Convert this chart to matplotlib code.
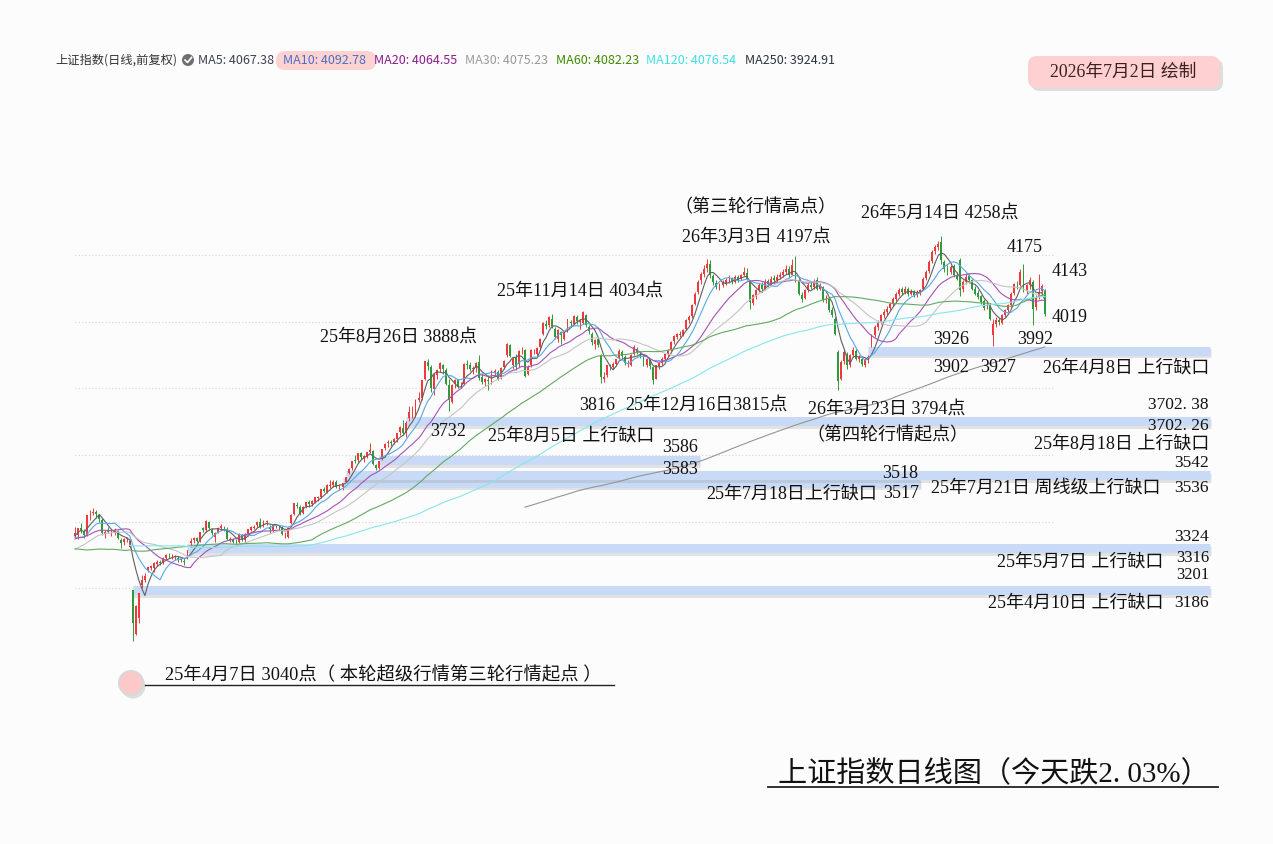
import numpy as np
import pandas as pd
import matplotlib
matplotlib.use("Agg")
import matplotlib.pyplot as plt
import matplotlib.patheffects as pe
from matplotlib.patches import FancyBboxPatch, Circle

# ---- data: SSE composite daily candles, 2025-03-10 .. 2026-07-02 ----
# closes before the first shown candle (only used to warm up the moving averages)
prior_closes = [3217, 3284, 3202, 3202, 3169, 3261, 3268, 3285, 3302, 3280, 3299, 3322, 3286, 3266, 3279,
                3272, 3310, 3386, 3383, 3470, 3452, 3470, 3421, 3439, 3423, 3379, 3330, 3324, 3367, 3370, 3316, 3267, 3263,
                3259, 3295, 3309, 3326, 3363, 3378, 3364, 3368, 3404, 3402, 3422, 3432, 3461, 3391, 3386, 3361, 3382, 3370,
                3398, 3393, 3351, 3394, 3400, 3407, 3399, 3351, 3262, 3242, 3211, 3206, 3229, 3230, 3211, 3168, 3160, 3227,
                3236, 3241, 3241, 3244, 3242, 3213, 3230, 3250, 3252, 3250, 3270, 3303, 3311, 3318, 3322, 3346, 3332, 3355,
                3324, 3351, 3355, 3350, 3379, 3373, 3388, 3346, 3320, 3316, 3324, 3342, 3381, 3372]

opens = [3358, 3360, 3382, 3370, 3360, 3425, 3427, 3428, 3420, 3405,
         3362, 3372, 3368, 3366, 3372, 3345, 3338, 3348, 3325, 3194,
         3064, 3110, 3210, 3224, 3255, 3260, 3262, 3272, 3278, 3277,
         3290, 3298, 3296, 3295, 3292, 3285, 3283, 3290, 3335, 3345,
         3350, 3345, 3380, 3376, 3398, 3376, 3355, 3370, 3380, 3382,
         3378, 3345, 3345, 3340, 3340, 3360, 3345, 3362, 3376, 3382,
         3390, 3400, 3390, 3400, 3385, 3375, 3388, 3387, 3385, 3360,
         3355, 3395, 3422, 3450, 3445, 3426, 3446, 3458, 3452, 3460,
         3470, 3475, 3498, 3490, 3508, 3510, 3520, 3502, 3504, 3520,
         3545, 3560, 3585, 3585, 3605, 3590, 3595, 3610, 3612, 3570,
         3560, 3590, 3620, 3635, 3638, 3640, 3648, 3668, 3682, 3665,
         3710, 3725, 3720, 3765, 3770, 3830, 3880, 3865, 3798, 3840,
         3860, 3870, 3855, 3810, 3760, 3815, 3825, 3810, 3815, 3875,
         3870, 3858, 3862, 3880, 3835, 3820, 3825, 3818, 3850, 3850,
         3835, 3865, 3900, 3930, 3870, 3895, 3875, 3915, 3915, 3845,
         3870, 3912, 3905, 3925, 3965, 3995, 3990, 4010, 3980, 3950,
         3970, 3950, 3975, 4000, 3995, 4015, 4000, 3998, 4020, 3985,
         3965, 3935, 3950, 3900, 3830, 3840, 3865, 3866, 3875, 3892,
         3910, 3895, 3875, 3870, 3905, 3920, 3905, 3900, 3870, 3885,
         3865, 3830, 3868, 3878, 3890, 3905, 3915, 3942, 3955, 3962,
         3962, 3978, 4005, 4018, 4055, 4090, 4125, 4145, 4162, 4175,
         4138, 4118, 4100, 4112, 4115, 4128, 4132, 4120, 4136, 4128,
         4142, 4148, 4120, 4058, 4078, 4095, 4112, 4100, 4122, 4115,
         4132, 4125, 4135, 4140, 4150, 4160, 4142, 4180, 4125, 4082,
         4072, 4095, 4112, 4105, 4125, 4100, 4105, 4065, 4068, 4035,
         4010, 3910, 3830, 3882, 3905, 3872, 3900, 3912, 3888, 3890,
         3872, 3885, 3935, 3962, 3985, 4000, 4022, 4030, 4042, 4055,
         4070, 4085, 4098, 4090, 4100, 4085, 4092, 4080, 4088, 4100,
         4132, 4152, 4182, 4212, 4226, 4240, 4180, 4162, 4150, 4168,
         4142, 4185, 4098, 4120, 4138, 4125, 4100, 4088, 4078, 4062,
         4048, 4052, 3960, 3995, 4005, 3998, 4020, 4035, 4050, 4088,
         4112, 4112, 4155, 4095, 4110, 4120, 4045, 4078, 4092, 4095]

highs = [3385, 3382, 3395, 3378, 3420, 3436, 3440, 3434, 3424, 3410,
         3376, 3384, 3375, 3380, 3375, 3350, 3350, 3354, 3348, 3194,
         3150, 3186, 3240, 3245, 3265, 3270, 3280, 3285, 3284, 3295,
         3302, 3305, 3302, 3300, 3296, 3292, 3290, 3316, 3350, 3355,
         3355, 3370, 3385, 3404, 3402, 3380, 3370, 3385, 3392, 3388,
         3385, 3355, 3352, 3348, 3365, 3362, 3365, 3378, 3388, 3390,
         3402, 3410, 3405, 3406, 3390, 3390, 3392, 3390, 3387, 3370,
         3385, 3422, 3456, 3460, 3450, 3446, 3460, 3465, 3465, 3475,
         3478, 3498, 3505, 3512, 3525, 3525, 3525, 3512, 3517, 3535,
         3562, 3582, 3600, 3606, 3610, 3600, 3610, 3636, 3615, 3572,
         3583, 3618, 3636, 3645, 3645, 3650, 3666, 3688, 3705, 3702,
         3746, 3746, 3767, 3788, 3826, 3883, 3888, 3870, 3845, 3860,
         3880, 3875, 3862, 3830, 3815, 3830, 3830, 3820, 3876, 3885,
         3880, 3868, 3880, 3900, 3845, 3832, 3840, 3855, 3860, 3855,
         3865, 3885, 3937, 3935, 3895, 3905, 3915, 3925, 3920, 3870,
         3918, 3920, 3925, 3952, 3999, 4005, 4017, 4025, 3985, 3978,
         3972, 3972, 4008, 4005, 4020, 4020, 4010, 4034, 4025, 3990,
         3970, 3950, 3955, 3905, 3850, 3872, 3875, 3880, 3890, 3920,
         3915, 3900, 3885, 3905, 3930, 3925, 3912, 3905, 3892, 3890,
         3868, 3872, 3880, 3895, 3908, 3918, 3942, 3960, 3968, 3972,
         3980, 4010, 4020, 4055, 4090, 4125, 4150, 4172, 4190, 4185,
         4145, 4125, 4118, 4125, 4132, 4140, 4136, 4140, 4142, 4145,
         4165, 4162, 4125, 4085, 4100, 4118, 4120, 4128, 4130, 4138,
         4140, 4145, 4150, 4160, 4170, 4168, 4188, 4197, 4130, 4090,
         4100, 4118, 4120, 4128, 4135, 4118, 4108, 4080, 4072, 4045,
         4015, 3915, 3885, 3920, 3910, 3905, 3925, 3918, 3900, 3895,
         3892, 3902, 3965, 3990, 4005, 4025, 4038, 4048, 4060, 4075,
         4090, 4102, 4105, 4108, 4105, 4098, 4096, 4095, 4100, 4135,
         4155, 4185, 4215, 4232, 4242, 4258, 4185, 4170, 4172, 4175,
         4150, 4192, 4125, 4145, 4145, 4130, 4108, 4095, 4082, 4068,
         4062, 4058, 4008, 4015, 4012, 4025, 4040, 4055, 4090, 4118,
         4122, 4160, 4175, 4115, 4135, 4125, 4080, 4143, 4115, 4100]

lows = [3350, 3347, 3365, 3350, 3358, 3405, 3420, 3410, 3400, 3360,
        3350, 3365, 3356, 3360, 3348, 3320, 3330, 3340, 3322, 3041,
        3060, 3095, 3201, 3218, 3248, 3255, 3250, 3268, 3270, 3274,
        3285, 3290, 3288, 3286, 3280, 3280, 3270, 3288, 3324, 3335,
        3338, 3340, 3368, 3370, 3375, 3360, 3340, 3365, 3375, 3372,
        3346, 3340, 3335, 3333, 3336, 3343, 3340, 3358, 3372, 3378,
        3385, 3380, 3385, 3390, 3365, 3370, 3380, 3375, 3360, 3350,
        3350, 3392, 3420, 3440, 3420, 3422, 3440, 3445, 3448, 3455,
        3462, 3470, 3488, 3485, 3500, 3505, 3500, 3495, 3496, 3518,
        3542, 3555, 3575, 3580, 3588, 3580, 3590, 3605, 3570, 3555,
        3558, 3586, 3615, 3625, 3628, 3632, 3640, 3660, 3660, 3655,
        3702, 3710, 3715, 3760, 3765, 3825, 3855, 3790, 3780, 3830,
        3850, 3845, 3810, 3732, 3755, 3800, 3800, 3800, 3810, 3860,
        3852, 3845, 3850, 3825, 3815, 3808, 3795, 3815, 3840, 3825,
        3830, 3860, 3895, 3895, 3860, 3855, 3865, 3905, 3835, 3840,
        3865, 3905, 3895, 3920, 3960, 3980, 3985, 3982, 3950, 3940,
        3935, 3945, 3970, 3985, 3990, 3995, 3980, 3995, 3985, 3965,
        3930, 3920, 3925, 3816, 3820, 3835, 3855, 3860, 3868, 3888,
        3890, 3870, 3865, 3868, 3900, 3905, 3892, 3868, 3865, 3860,
        3815, 3828, 3860, 3872, 3885, 3898, 3912, 3935, 3948, 3955,
        3958, 3975, 3998, 4012, 4050, 4085, 4115, 4135, 4150, 4132,
        4110, 4098, 4095, 4105, 4110, 4118, 4115, 4118, 4120, 4125,
        4138, 4125, 4040, 4050, 4070, 4090, 4090, 4095, 4105, 4110,
        4118, 4120, 4128, 4135, 4145, 4135, 4140, 4120, 4080, 4060,
        4068, 4090, 4098, 4100, 4095, 4095, 4060, 4058, 4030, 4015,
        3960, 3794, 3825, 3875, 3860, 3865, 3895, 3885, 3880, 3868,
        3865, 3878, 3926, 3955, 3975, 3995, 4012, 4022, 4035, 4048,
        4062, 4078, 4082, 4085, 4078, 4080, 4075, 4075, 4082, 4095,
        4125, 4148, 4178, 4205, 4215, 4175, 4150, 4142, 4145, 4135,
        4125, 4078, 4090, 4115, 4118, 4095, 4080, 4070, 4055, 4035,
        4040, 4005, 3927, 3985, 3990, 3995, 4015, 4030, 4045, 4080,
        4100, 4108, 4090, 4085, 4100, 3992, 4035, 4070, 4085, 4019]

closes = [3366, 3380, 3372, 3359, 3420, 3426, 3430, 3424, 3409, 3365,
          3370, 3370, 3369, 3374, 3351, 3336, 3348, 3350, 3342, 3097,
          3146, 3186, 3224, 3238, 3263, 3268, 3276, 3280, 3277, 3291,
          3300, 3296, 3297, 3295, 3288, 3287, 3279, 3316, 3343, 3352,
          3342, 3369, 3374, 3403, 3380, 3367, 3367, 3380, 3387, 3381,
          3348, 3347, 3340, 3339, 3363, 3347, 3362, 3377, 3384, 3385,
          3399, 3384, 3402, 3403, 3377, 3389, 3387, 3388, 3362, 3360,
          3382, 3420, 3455, 3448, 3424, 3444, 3458, 3454, 3462, 3473,
          3473, 3497, 3493, 3509, 3510, 3520, 3505, 3504, 3516, 3534,
          3559, 3581, 3582, 3605, 3593, 3597, 3609, 3615, 3573, 3560,
          3583, 3618, 3634, 3639, 3635, 3648, 3665, 3684, 3666, 3697,
          3728, 3727, 3766, 3771, 3826, 3883, 3868, 3800, 3843, 3857,
          3876, 3858, 3813, 3766, 3812, 3826, 3807, 3812, 3875, 3870,
          3860, 3861, 3876, 3831, 3820, 3828, 3822, 3853, 3853, 3828,
          3862, 3883, 3934, 3897, 3889, 3865, 3912, 3916, 3839, 3864,
          3917, 3914, 3922, 3950, 3996, 3988, 4016, 3987, 3954, 3977,
          3960, 3969, 4008, 3997, 4018, 4002, 4000, 4029, 3990, 3972,
          3940, 3946, 3932, 3835, 3836, 3870, 3864, 3875, 3889, 3914,
          3898, 3878, 3875, 3902, 3924, 3910, 3900, 3873, 3889, 3867,
          3825, 3870, 3876, 3890, 3905, 3915, 3940, 3958, 3963, 3965,
          3975, 4005, 4015, 4050, 4085, 4120, 4145, 4160, 4175, 4140,
          4120, 4105, 4110, 4118, 4125, 4130, 4122, 4135, 4128, 4140,
          4150, 4130, 4060, 4080, 4095, 4110, 4100, 4120, 4115, 4130,
          4125, 4135, 4140, 4150, 4160, 4140, 4171, 4130, 4085, 4070,
          4095, 4110, 4105, 4120, 4100, 4110, 4065, 4070, 4035, 4020,
          3965, 3822, 3880, 3910, 3870, 3900, 3915, 3890, 3895, 3875,
          3885, 3895, 3960, 3985, 4000, 4020, 4030, 4040, 4055, 4070,
          4085, 4095, 4090, 4100, 4085, 4090, 4080, 4088, 4095, 4130,
          4150, 4180, 4210, 4225, 4235, 4185, 4160, 4150, 4165, 4140,
          4130, 4095, 4120, 4135, 4125, 4100, 4085, 4075, 4060, 4041,
          4050, 4010, 3995, 4005, 4000, 4020, 4035, 4050, 4085, 4113,
          4110, 4150, 4095, 4110, 4126, 4040, 4075, 4089, 4108, 4024.6]

ma_windows = [5, 10, 20, 30, 60, 120, 250]
ma_colors = ['#606060', '#58a8e4', '#a652b4', '#c4c4c4', '#62aa62', '#86e6ee', '#959595']
legend_names = ['MA5: 4067.38', 'MA10: 4092.78', 'MA20: 4064.55', 'MA30: 4075.23',
                'MA60: 4082.23', 'MA120: 4076.54', 'MA250: 3924.91']
legend_colors = ['#3a4250', '#4a6fc4', '#8a1c8a', '#9a9a9a', '#3f8a00', '#3fe0e6', '#2c3440']
legend_x = [198, 283, 374, 465, 556, 646, 745]

# upward gaps: start candle, end candle, low, high
gap_start = [19, 37, 88, 89, 100, 109, 261]
gap_end = [373.4, 373.4, 278, 373.4, 205.5, 373.4, 373.4]
gap_low = [3186, 3316, 3517, 3536, 3583, 3702.26, 3902]
gap_high = [3201, 3324, 3518, 3542, 3586, 3702.38, 3926]

# ---- figure: one axes in data units, one overlay in pixel units ----
W, H = 1273, 844
fig = plt.figure(figsize=(W / 100, H / 100), dpi=100, facecolor='#fcfcfd')
ax = fig.add_axes([0, 0, 1, 1], zorder=1)
ax.set_facecolor('#fcfcfd')
# x: candle i sits at 75 + 3.04*i px;  y: 3400 at 521.7 px, 0.333 px per point
ax.set_xlim(-75 / 3.04, (W - 75) / 3.04)
ax.set_ylim(3400 - (H - 521.7) * 3.003, 3400 + 521.7 * 3.003)
ax.axis('off')

ov = fig.add_axes([0, 0, 1, 1], zorder=2)
ov.set_xlim(0, W)
ov.set_ylim(H, 0)
ov.axis('off')
ov.patch.set_alpha(0)

o = np.array(opens, float)
c = np.array(closes, float)
h = np.maximum(np.array(highs, float), np.maximum(o, c))
l = np.minimum(np.array(lows, float), np.minimum(o, c))
x = np.arange(len(c))

# grid
ax.hlines([3200, 3400, 3600, 3800, 4000, 4200], 0, (1055 - 75) / 3.04,
          colors='#d6d6d6', linestyles=(0, (1, 2)), linewidth=0.8, zorder=0)

# gap bands
for s, e, lo, hi in zip(gap_start, gap_end, gap_low, gap_high):
    ax.plot([s, e], [(lo + hi) / 2] * 2, color='#c8daf6', lw=6.5, solid_capstyle='butt', zorder=1,
            path_effects=[pe.SimpleLineShadow(offset=(0.5, -2), shadow_color='#8a8a8a', alpha=0.22),
                          pe.Normal()])

# candles
up = c >= o
col = np.where(up, '#ee3a3a', '#2e9a38')
ax.vlines(x, l, h, colors=col, linewidth=0.7, zorder=3)
body = np.maximum(np.abs(c - o), 1.5)
ax.bar(x, body, bottom=np.minimum(o, c), width=0.62, color=col, linewidth=0, zorder=3)

# moving averages
allc = pd.Series(prior_closes + closes, dtype=float)
n0 = len(prior_closes)
for w, mc in zip(ma_windows, ma_colors):
    ma = allc.rolling(w).mean().to_numpy()[n0:]
    ax.plot(x, ma, color=mc, lw=0.8, zorder=4)

# ---- header legend ----
hdr = ['Noto Sans CJK SC', 'DejaVu Sans']
ov.text(55, 60, '上证指数(日线,前复权)', fontsize=8.8, color='#333333', family=hdr, va='center')
ov.add_patch(Circle((188, 60), 6, fc='#6e6e6e', ec='none'))
ov.plot([185, 187.5, 191.5], [60, 62.5, 57.5], color='white', lw=1.2)
ov.add_patch(FancyBboxPatch((276, 51), 100, 19, boxstyle='round,pad=0,rounding_size=9',
                            fc='#ffd2d2', ec='none'))
for name, lc, lx in zip(legend_names, legend_colors, legend_x):
    ov.text(lx, 60, name, fontsize=9, color=lc, family=hdr, va='center')

# date box
ov.add_patch(FancyBboxPatch((1031, 59), 192, 32, boxstyle='round,pad=0,rounding_size=9',
                            fc='#b0b0b0', ec='none', alpha=0.4))
ov.add_patch(FancyBboxPatch((1028, 56), 192, 32, boxstyle='round,pad=0,rounding_size=9',
                            fc='#ffd0d2', ec='none'))
ser = ['Liberation Serif', 'Noto Sans CJK SC']
ov.text(1123, 72, '2026年7月2日 绘制', fontsize=12.8, color='#3a2020', family=ser, ha='center', va='center')

# annotations (text, x px, y px, align, size)
notes = [
    ('（第三轮行情高点）', 755, 208, 'center', 13),
    ('26年3月3日 4197点', 756, 237, 'center', 13),
    ('26年5月14日 4258点', 940, 213, 'center', 13),
    ('4175', 1025, 247, 'center', 13),
    ('4143', 1070, 271, 'center', 13),
    ('4019', 1070, 317, 'center', 13),
    ('25年11月14日 4034点', 580, 291, 'center', 13),
    ('25年8月26日 3888点', 398, 337, 'center', 13),
    ('3926', 951, 340, 'center', 13),
    ('3992', 1035, 340, 'center', 13),
    ('3902', 951, 367, 'center', 13),
    ('3927', 998, 368, 'center', 13),
    ('26年4月8日 上行缺口', 1209, 368, 'right', 13),
    ('3816', 597, 405, 'center', 13),
    ('25年12月16日3815点', 706, 405, 'center', 13),
    ('26年3月23日 3794点', 887, 409, 'center', 13),
    ('（第四轮行情起点）', 887, 436, 'center', 13),
    ('3732', 448, 432, 'center', 13),
    ('25年8月5日 上行缺口', 571, 436, 'center', 13),
    ('3702. 38', 1209, 405, 'right', 12.5),
    ('3702. 26', 1209, 426, 'right', 12.5),
    ('25年8月18日 上行缺口', 1209, 444, 'right', 13),
    ('3586', 680, 447, 'center', 13),
    ('3583', 680, 470, 'center', 13),
    ('3542', 1209, 463, 'right', 12.5),
    ('3518', 900, 474, 'center', 13),
    ('25年7月18日上行缺口', 792, 494, 'center', 13),
    ('3517', 901, 494, 'center', 13),
    ('25年7月21日 周线级上行缺口', 1046, 488, 'center', 13),
    ('3536', 1209, 488, 'right', 12.5),
    ('3324', 1209, 537, 'right', 12.5),
    ('25年5月7日 上行缺口', 1080, 562, 'center', 13),
    ('3316', 1209, 558, 'right', 12),
    ('3201', 1209, 575, 'right', 12),
    ('25年4月10日 上行缺口', 1076, 603, 'center', 13),
    ('3186', 1209, 603, 'right', 12.5),
]
for s, tx, ty, ha, fs in notes:
    ov.text(tx, ty, s, fontsize=fs, color='#111111', family=ser, ha=ha, va='center')

# start-point marker
ov.add_patch(Circle((133, 686), 12.5, fc='#9a9a9a', ec='none', alpha=0.3))
ov.add_patch(Circle((131, 683), 12, fc='#ffc8c8', ec='#d8d8d8', lw=1.5))
ov.plot([145, 614], [685, 685], color='#222222', lw=1)
ov.text(383, 675, '25年4月7日 3040点（ 本轮超级行情第三轮行情起点 ）', fontsize=13.2, color='#111111',
        family=ser, ha='center', va='center')

# title
ov.plot([768, 1218], [787, 787], color='#222222', lw=1.3)
ov.text(994, 774, '上证指数日线图（今天跌2. 03%）', fontsize=21, color='#111111',
        family=ser, ha='center', va='center')

fig.savefig('out.png', dpi=100, facecolor=fig.get_facecolor())
